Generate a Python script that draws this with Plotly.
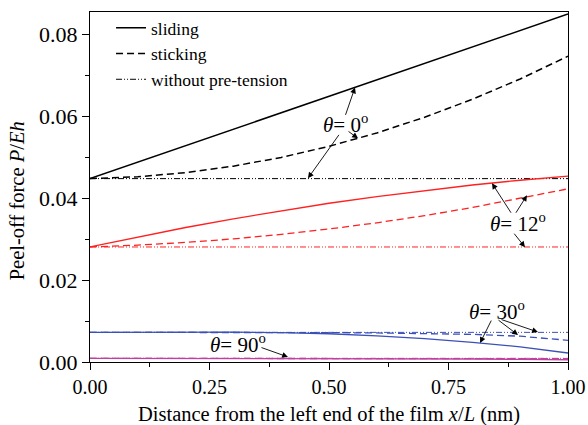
import plotly.graph_objects as go

x_pos = [0.0, 0.1, 0.2, 0.3, 0.4, 0.5, 0.6, 0.7, 0.8, 0.9, 1.0]

# theta = 0 deg (black)
t0_sliding = [0.0448, 0.0488, 0.0528, 0.0569, 0.0609, 0.0649, 0.0689, 0.0729, 0.0770, 0.0810, 0.0850]
t0_sticking = [0.0448, 0.04525, 0.04626, 0.04784, 0.04998, 0.05269, 0.05595, 0.05979, 0.06419, 0.06914, 0.0747]
t0_without = [0.0448] * 11

# theta = 12 deg (red)
t12_sliding = [0.0281, 0.03056, 0.03286, 0.03499, 0.03696, 0.03878, 0.04042, 0.04191, 0.04324, 0.0444, 0.0454]
t12_sticking = [0.0281, 0.02855, 0.02921, 0.03008, 0.03118, 0.03249, 0.03401, 0.03575, 0.03775, 0.0401, 0.0423]
t12_without = [0.0281] * 11

# theta = 30 deg (blue)
t30_sliding = [0.00724, 0.00732, 0.00735, 0.00732, 0.00718, 0.00690, 0.0064, 0.0057, 0.0048, 0.0037, 0.0022]
t30_sticking = [0.00724, 0.00726, 0.00727, 0.00726, 0.00723, 0.00718, 0.0071, 0.0070, 0.00675, 0.0063, 0.0053]
t30_without = [0.00724] * 11

# theta = 90 deg (magenta)
t90_sliding = [0.0009, 0.0009, 0.0009, 0.0009, 0.0009, 0.00088, 0.00085, 0.0008, 0.00073, 0.00065, 0.00055]
t90_sticking = [0.0009, 0.0009, 0.0009, 0.0009, 0.0009, 0.0009, 0.00089, 0.00087, 0.00085, 0.00082, 0.0008]
t90_without = [0.0009] * 11

legend_names = ["sliding", "sticking", "without pre-tension"]
x_ticks = [0.0, 0.25, 0.5, 0.75, 1.0]
y_ticks = [0.0, 0.02, 0.04, 0.06, 0.08]

FONT = "Times New Roman, Liberation Serif, serif"
DASHED = "7px,4px"
DASHDOTDOT = "6px,2px,1px,2px,1px,2px"

groups = [
    ("#000000", 1.5, t0_sliding, t0_sticking, t0_without, True),
    ("#ff2020", 1.3, t12_sliding, t12_sticking, t12_without, False),
    ("#3b50b8", 1.3, t30_sliding, t30_sticking, t30_without, False),
    ("#c040a0", 1.3, t90_sliding, t90_sticking, t90_without, False),
]

fig = go.Figure()
for color, w, sl, st, wo, show in groups:
    fig.add_trace(go.Scatter(x=x_pos, y=sl, mode="lines", name=legend_names[0],
                             line=dict(color=color, width=w), showlegend=show))
    fig.add_trace(go.Scatter(x=x_pos, y=st, mode="lines", name=legend_names[1],
                             line=dict(color=color, width=w, dash=DASHED), showlegend=show))
    fig.add_trace(go.Scatter(x=x_pos, y=wo, mode="lines", name=legend_names[2],
                             line=dict(color=color, width=1.0, dash=DASHDOTDOT), showlegend=show))

# annotation texts: (label, x, y)
theta_labels = [
    ("<i>θ</i>= 0<sup>o</sup>", 0.5335, 0.0583),
    ("<i>θ</i>= 12<sup>o</sup>", 0.8954, 0.03415),
    ("<i>θ</i>= 30<sup>o</sup>", 0.8515, 0.01268),
    ("<i>θ</i>= 90<sup>o</sup>", 0.3096, 0.00463),
]
# arrows: (tail x, tail y, head x, head y)
arrows = [
    (0.5335, 0.0600, 0.5544, 0.06707),
    (0.5377, 0.05659, 0.5607, 0.05463),
    (0.523, 0.05585, 0.456, 0.04488),
    (0.8828, 0.0361, 0.841, 0.04366),
    (0.8891, 0.0361, 0.9142, 0.04073),
    (0.885, 0.03171, 0.910, 0.02805),
    (0.841, 0.01049, 0.816, 0.00463),
    (0.8515, 0.01049, 0.8954, 0.00659),
    (0.8577, 0.01049, 0.9372, 0.00732),
    (0.3556, 0.00366, 0.4142, 0.00122),
]

annotations = []
for txt, xx, yy in theta_labels:
    annotations.append(dict(x=xx, y=yy, xref="x", yref="y", text=txt, showarrow=False,
                            font=dict(family=FONT, size=21, color="black")))
for tx, ty, hx, hy in arrows:
    annotations.append(dict(x=hx, y=hy, ax=tx, ay=ty, xref="x", yref="y", axref="x", ayref="y",
                            text="", showarrow=True, arrowhead=2, arrowsize=1.3,
                            arrowwidth=0.9, arrowcolor="black", standoff=0, startstandoff=0))
# axis titles as annotations
annotations.append(dict(x=-0.152, y=0.46, xref="paper", yref="paper", xanchor="center", yanchor="middle",
                        text="Peel-off force <i>P</i>/<i>Eh</i>", textangle=-90, showarrow=False,
                        font=dict(family=FONT, size=20.5, color="black")))
annotations.append(dict(x=0.5, y=-0.149, xref="paper", yref="paper", xanchor="center", yanchor="middle",
                        text="Distance from the left end of the film <i>x</i>/<i>L</i> (nm)", showarrow=False,
                        font=dict(family=FONT, size=20.5, color="black")))

fig.update_layout(
    width=588, height=425,
    margin=dict(l=90, r=20, t=12, b=63, autoexpand=False),
    paper_bgcolor="white", plot_bgcolor="white",
    font=dict(family=FONT, size=20, color="black"),
    showlegend=True,
    legend=dict(x=0.044, y=1.006, xanchor="left", yanchor="top", bgcolor="rgba(0,0,0,0)",
                font=dict(family=FONT, size=17.5), borderwidth=0, tracegroupgap=0),
    annotations=annotations,
)
fig.update_xaxes(
    range=[0, 1], tickvals=x_ticks, ticktext=[f"{v:.2f}" for v in x_ticks], automargin=False,
    ticks="outside", ticklen=7, tickwidth=1.2, tickcolor="black",
    showline=True, linecolor="black", linewidth=1.3, mirror=True,
    showgrid=False, zeroline=False,
    minor=dict(dtick=0.125, tick0=0, ticks="outside", ticklen=4, tickwidth=1.2, tickcolor="black", showgrid=False),
    tickfont=dict(family=FONT, size=20),
)
fig.update_yaxes(
    range=[0, 0.0855], tickvals=y_ticks, ticktext=[f"{v:.2f}" for v in y_ticks], automargin=False,
    ticks="outside", ticklen=7, tickwidth=1.2, tickcolor="black",
    showline=True, linecolor="black", linewidth=1.3, mirror=True,
    showgrid=False, zeroline=False,
    minor=dict(dtick=0.01, tick0=0, ticks="outside", ticklen=4, tickwidth=1.2, tickcolor="black", showgrid=False),
    tickfont=dict(family=FONT, size=22),
)

fig.write_html("out.html")
